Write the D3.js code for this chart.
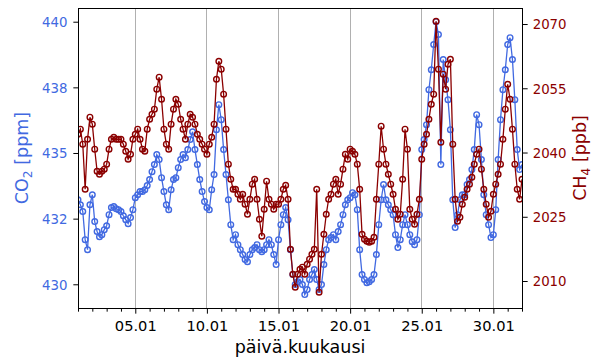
<!DOCTYPE html>
<html><head><meta charset="utf-8">
<script src="https://cdn.jsdelivr.net/npm/d3@7"></script>
<style>body{margin:0;background:#fff}svg{display:block}text{font-family:"DejaVu Sans",sans-serif}</style>
</head><body><svg id="c" width="600" height="360"></svg>
<script>
// 4-hourly samples from 01.01 00:00 to 01.02 00:00
const co2 = [
433.22,433.03,432.77,431.70,431.32,433.03,
433.41,432.39,432.01,431.81,431.89,432.08,
432.23,432.65,432.92,432.96,432.88,432.84,
432.77,432.61,432.46,432.31,432.54,432.84,
433.30,433.41,433.53,433.53,433.60,433.76,
433.99,434.29,434.56,434.94,434.75,434.06,
433.53,433.03,432.84,433.60,433.99,434.06,
434.44,434.75,434.94,434.82,435.13,435.51,
435.81,435.13,434.56,433.99,433.53,433.15,
432.92,432.84,433.60,434.18,435.89,436.84,
436.27,435.13,434.18,433.22,432.27,431.70,
431.89,431.51,431.32,431.13,430.94,430.86,
431.13,431.32,431.40,431.51,431.32,431.24,
431.32,431.51,431.70,431.51,431.13,430.75,
431.70,432.27,432.65,432.92,432.46,431.32,
430.37,429.99,430.10,430.18,429.99,429.61,
429.80,430.18,430.37,430.56,430.18,429.80,
429.99,430.75,431.32,431.70,431.78,431.89,
431.70,432.01,432.27,432.65,433.03,433.22,
433.30,433.49,433.41,432.84,431.32,430.37,
430.18,430.06,430.10,430.18,430.37,431.13,
432.27,433.22,433.80,433.22,433.03,432.84,
432.65,431.89,431.40,431.70,432.27,432.65,
432.27,431.89,431.62,431.51,431.70,432.65,
435.13,435.51,436.08,437.41,438.17,439.13,
440.00,439.51,434.56,438.56,437.79,437.03,
435.89,433.22,432.16,432.65,433.22,433.41,
433.41,433.80,433.99,434.37,435.13,436.46,
436.08,434.75,433.41,432.65,432.27,431.78,
431.89,432.84,434.75,436.27,437.41,438.17,
439.13,439.39,438.56,437.03,435.13,434.37,
434.56];
const ch4 = [
2044.27,2045.44,2041.94,2031.43,2043.10,2048.24,
2046.61,2040.77,2035.63,2034.93,2035.63,2036.10,
2037.27,2040.77,2043.10,2043.57,2043.10,2043.10,
2043.10,2041.94,2040.30,2038.43,2039.60,2043.10,
2044.27,2045.44,2043.10,2040.77,2040.30,2045.44,
2047.77,2048.94,2050.11,2054.78,2057.58,2052.44,
2045.44,2041.94,2040.77,2046.61,2050.11,2052.44,
2051.27,2047.77,2045.44,2043.10,2046.61,2048.94,
2048.24,2046.61,2044.27,2043.10,2041.94,2040.77,
2039.60,2041.94,2043.57,2046.61,2057.11,2061.31,
2059.45,2053.61,2045.44,2037.27,2033.76,2031.43,
2031.43,2030.26,2029.09,2030.26,2027.93,2025.59,
2029.09,2032.60,2033.76,2029.09,2024.42,2020.46,
2026.76,2033.30,2029.09,2027.93,2026.76,2027.93,
2027.93,2029.09,2031.43,2032.36,2029.09,2017.42,
2011.58,2008.55,2011.58,2012.75,2013.22,2011.58,
2013.92,2015.09,2016.25,2017.42,2031.43,2007.38,
2016.25,2020.92,2025.59,2029.09,2030.26,2032.60,
2033.76,2030.26,2032.60,2036.10,2039.60,2038.43,
2040.77,2040.30,2039.60,2037.27,2031.43,2020.92,
2019.75,2019.29,2019.05,2019.29,2020.22,2029.09,
2037.27,2046.14,2040.77,2037.27,2034.93,2032.60,
2030.26,2026.76,2024.42,2025.59,2033.76,2045.44,
2040.77,2026.76,2024.42,2023.26,2025.59,2029.09,
2038.43,2041.94,2044.27,2047.77,2051.27,2053.61,
2070.65,2059.45,2042.40,2058.28,2054.78,2060.61,
2061.78,2041.94,2029.09,2023.96,2024.89,2027.93,
2029.56,2031.43,2032.60,2034.23,2037.27,2039.60,
2040.77,2036.10,2031.43,2027.93,2024.89,2026.29,
2030.26,2032.60,2034.93,2037.27,2043.10,2050.11,
2055.94,2052.44,2045.44,2037.27,2031.43,2029.09,
2033.76];
const co2Ticks = [430, 432.5, 435, 437.5, 440];
const co2TickLabels = ["430", "432", "435", "438", "440"];
const ch4Ticks = [2010, 2025, 2040, 2055, 2070];
const xTickDays = [5, 10, 15, 20, 25, 30];

const startMs = Date.UTC(2024, 0, 1);
const times = co2.map((_, i) => new Date(startMs + i * 4 * 3600e3));
const BLUE = "#4169E1", RED = "#8B0000";
const m = {l: 78, r: 522, t: 8, b: 308};
const svg = d3.select("#c");
svg.append("rect").attr("width", 600).attr("height", 360).attr("fill", "#fff");

const x = d3.scaleUtc().domain([new Date(startMs), new Date(Date.UTC(2024, 1, 1))]).range([m.l, m.r]);
const yL = d3.scaleLinear().domain([429.097, 440.522]).range([m.b, m.t]);
const yR = d3.scaleLinear().domain([2003.70, 2073.74]).range([m.b, m.t]);
const majorDates = xTickDays.map(d => new Date(Date.UTC(2024, 0, d)));
const minorDates = d3.utcDay.range(new Date(startMs), new Date(Date.UTC(2024, 1, 1, 1)));

svg.append("defs").append("clipPath").attr("id", "clip")
  .append("rect").attr("x", m.l).attr("y", m.t).attr("width", m.r - m.l).attr("height", m.b - m.t);

// grid
svg.append("g").selectAll("line").data(majorDates).join("line")
  .attr("x1", d => Math.round(x(d) - 0.5) + 0.5).attr("x2", d => Math.round(x(d) - 0.5) + 0.5)
  .attr("y1", m.t).attr("y2", m.b).attr("stroke", "#b0b0b0").attr("stroke-width", 1);

const plot = svg.append("g").attr("clip-path", "url(#clip)");
function series(vals, y, color) {
  const g = plot.append("g");
  g.append("path").datum(vals)
    .attr("d", d3.line().x((d, i) => x(times[i])).y(d => y(d)))
    .attr("fill", "none").attr("stroke", color).attr("stroke-width", 1.3);
  g.selectAll("circle").data(vals).join("circle")
    .attr("cx", (d, i) => x(times[i])).attr("cy", d => y(d)).attr("r", 2.8)
    .attr("fill", "none").attr("stroke", color).attr("stroke-width", 1.4);
}
series(co2, yL, BLUE);
series(ch4, yR, RED);

// frame
svg.append("rect").attr("x", m.l + 0.5).attr("y", m.t + 0.5).attr("width", m.r - m.l).attr("height", m.b - m.t)
  .attr("fill", "none").attr("stroke", "#000").attr("stroke-width", 1);

function styleAxis(g, color, size) {
  g.select(".domain").remove();
  g.selectAll("line").attr("stroke", "#000").attr("stroke-width", 1);
  g.selectAll("text").attr("fill", color).style("font-size", size + "px").style("font-family", "DejaVu Sans");
}
const gL = svg.append("g").attr("transform", `translate(${m.l},0)`)
  .call(d3.axisLeft(yL).tickValues(co2Ticks).tickFormat((d, i) => co2TickLabels[i]).tickSize(4.67).tickPadding(5.8));
styleAxis(gL, BLUE, 13.33);
gL.selectAll("text").attr("dy", "0.36em");

const gR = svg.append("g").attr("transform", `translate(${m.r + 1},0)`)
  .call(d3.axisRight(yR).tickValues(ch4Ticks).tickFormat(d3.format("d")).tickSize(4.67).tickPadding(5));
styleAxis(gR, RED, 13.33);
gR.selectAll("text").attr("dy", "0.36em");

const gB = svg.append("g").attr("transform", `translate(0,${m.b + 1})`)
  .call(d3.axisBottom(x).tickValues(majorDates).tickFormat(d3.utcFormat("%d.%m")).tickSize(4.67).tickPadding(6.6));
styleAxis(gB, "#000", 14.67);
const gM = svg.append("g").attr("transform", `translate(0,${m.b + 1})`)
  .call(d3.axisBottom(x).tickValues(minorDates.filter(d => !xTickDays.includes(d.getUTCDate()) || d.getUTCMonth() !== 0)).tickFormat("").tickSize(2.67));
styleAxis(gM, "#000", 10);

// axis titles
svg.append("text").attr("x", 300).attr("y", 353.3).attr("text-anchor", "middle")
  .style("font-size", "17.5px").attr("fill", "#000").text("päivä.kuukausi");

function yTitle(xp, main, sub, rest, color) {
  const t = svg.append("text").attr("transform", `translate(${xp},158) rotate(-90)`)
    .attr("text-anchor", "middle").style("font-size", "17.5px").attr("fill", color);
  t.append("tspan").text(main);
  t.append("tspan").attr("dy", 3.5).style("font-size", "12.25px").text(sub);
  t.append("tspan").attr("dy", -3.5).text(rest);
}
yTitle(28.3, "CO", "2", " [ppm]", BLUE);
yTitle(586.3, "CH", "4", " [ppb]", RED);
</script></body></html>
